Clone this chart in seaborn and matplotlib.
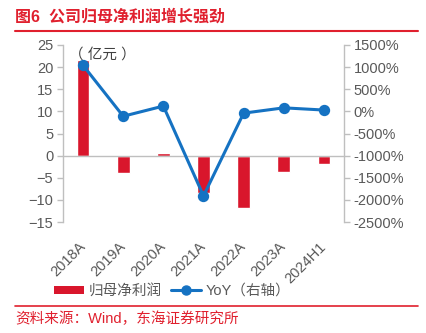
import matplotlib
matplotlib.use("Agg")
import matplotlib.pyplot as plt
import seaborn as sns
import pandas as pd
from matplotlib.ticker import FixedLocator, FuncFormatter
from matplotlib.lines import Line2D
from matplotlib.patches import Patch

# Data
periods = ["2018A", "2019A", "2020A", "2021A", "2022A", "2023A", "2024H1"]
net_profit = [21.7, -4.0, 0.5, -8.5, -11.9, -3.6, -1.8]          # 亿元
yoy_pct = [1040, -110, 120, -1910, -40, 80, 30]                  # %

left_ticks = [-15, -10, -5, 0, 5, 10, 15, 20, 25]
right_ticks = [-2500, -2000, -1500, -1000, -500, 0, 500, 1000, 1500]

RED = "#D9162C"
TITLE_RED = "#E0202E"
BLUE = "#1572C2"
GRAY_TXT = "#595959"
GRAY_LINE = "#BFBFBF"

sns.set_theme(style="white")
plt.rcParams["font.family"] = ["Liberation Sans", "Noto Sans CJK SC", "DejaVu Sans"]

df = pd.DataFrame({"period": periods, "profit": net_profit, "yoy": yoy_pct})

fig = plt.figure(figsize=(4.27, 3.33), dpi=100)
ax = fig.add_axes([63 / 427, 1 - 222 / 333, (344 - 63) / 427, (222 - 45) / 333])

sns.barplot(data=df, x="period", y="profit", color=RED, width=0.32,
            saturation=1, ax=ax, zorder=2)
ax.set_xlim(-0.5, len(periods) - 0.5)
ax.set_ylim(-15, 25)
ax.yaxis.set_major_locator(FixedLocator(left_ticks))
ax.set_xlabel("")
ax.set_ylabel("")

ax2 = ax.twinx()
sns.pointplot(data=df, x="period", y="yoy", color=BLUE, ax=ax2,
              markers="o", linestyles="-", markersize=6.5, linewidth=2.2)
ax2.set_ylim(-2500, 1500)
ax2.yaxis.set_major_locator(FixedLocator(right_ticks))
ax2.yaxis.set_major_formatter(FuncFormatter(lambda v, p: f"{int(v)}%"))
ax2.set_xlim(-0.5, len(periods) - 0.5)
ax2.set_xlabel("")
ax2.set_ylabel("")

# Spines: zero line as the category axis, outer vertical axes in gray
for a in (ax, ax2):
    a.spines["top"].set_visible(False)
    a.spines["bottom"].set_visible(False)
ax.spines["right"].set_visible(False)
ax2.spines["left"].set_visible(False)
ax.spines["left"].set_color(GRAY_LINE)
ax2.spines["right"].set_color(GRAY_LINE)
ax.spines["bottom"].set_visible(True)
ax.spines["bottom"].set_position(("data", 0))
ax.spines["bottom"].set_color(GRAY_LINE)
for a in (ax, ax2):
    for s in a.spines.values():
        s.set_linewidth(1.0)

ax.tick_params(axis="y", which="major", direction="out", length=4, width=1,
               color=GRAY_LINE, labelsize=10.5, labelcolor=GRAY_TXT, pad=3)
ax2.tick_params(axis="y", which="major", direction="out", length=4, width=1,
                color=GRAY_LINE, labelsize=10.5, labelcolor=GRAY_TXT, pad=3)
ax2.tick_params(axis="x", which="both", length=0, labelbottom=False)

# Category boundaries marked on the zero line, labels placed under the plot
ax.xaxis.set_minor_locator(FixedLocator([i + 0.5 for i in range(-1, len(periods))]))
ax.tick_params(axis="x", which="minor", direction="out", length=4, width=1,
               color=GRAY_LINE)
ax.tick_params(axis="x", which="major", length=0, labelsize=10.5,
               labelcolor=GRAY_TXT, pad=64)
for lbl in ax.get_xticklabels():
    lbl.set_rotation(45)
    lbl.set_ha("right")
    lbl.set_va("center")
    lbl.set_rotation_mode("anchor")

ax.text(0.02, 0.985, "（ 亿元 ）", transform=ax.transAxes, fontsize=10.5,
        color="#404040", ha="left", va="top")

# Title, source and rules
fig.text(15 / 427, 1 - 17 / 333, "图6  公司归母净利润增长强劲", fontsize=11.5,
         fontweight="bold", color=TITLE_RED, ha="left", va="center")
fig.add_artist(Line2D([15 / 427, 418 / 427], [1 - 30.5 / 333] * 2,
                      color=TITLE_RED, lw=1.5))
fig.add_artist(Line2D([15 / 427, 418 / 427], [1 - 306 / 333] * 2,
                      color=TITLE_RED, lw=1.2))
fig.text(15 / 427, 1 - 319 / 333, "资料来源：Wind，东海证券研究所", fontsize=10.5,
         color=TITLE_RED, ha="left", va="center")

handles = [Patch(facecolor=RED, edgecolor="none"),
           Line2D([], [], color=BLUE, lw=2.2, marker="o", markersize=6.5)]
fig.legend(handles, ["归母净利润", "YoY（右轴）"], loc="center",
           bbox_to_anchor=(172 / 427, 1 - 291 / 333), ncol=2, frameon=False,
           fontsize=10.5, labelcolor=GRAY_TXT, handlelength=2.1,
           handleheight=0.5, handletextpad=0.3, columnspacing=0.6)

fig.savefig("out.png", dpi=100)
